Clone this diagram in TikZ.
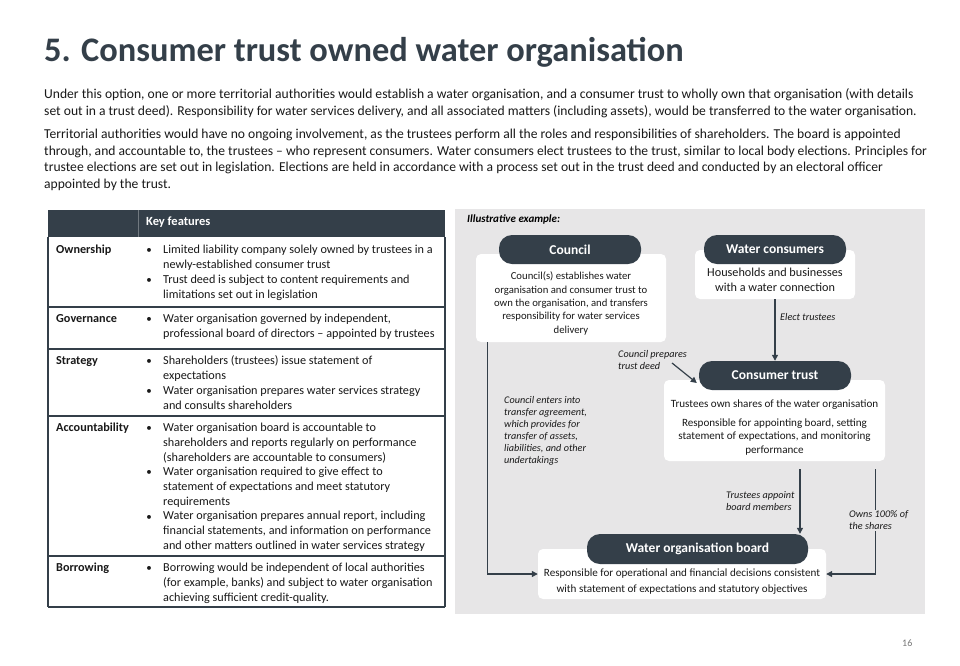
\documentclass[tikz,border=0pt]{standalone}
\usepackage{fontspec}
\setmainfont{Carlito}
\usetikzlibrary{arrows.meta, positioning, calc}
\definecolor{slate}{RGB}{52,63,73}
\definecolor{panelgrey}{RGB}{231,230,231}
\definecolor{bodyink}{RGB}{25,25,25}
\definecolor{pagegrey}{RGB}{120,120,120}
\tikzset{
  para/.style={anchor=base west, align=left, inner sep=0pt,
    font=\fontsize{13.6}{16.5}\selectfont, text=bodyink},
  rowlbl/.style={anchor=base west, inner sep=0pt,
    font=\fontsize{12.2}{15}\selectfont\bfseries, text=bodyink},
  itemtxt/.style={anchor=base west, align=left, inner sep=0pt,
    font=\fontsize{12.2}{15}\selectfont, text=bodyink},
  bulletmark/.style={anchor=base, inner sep=0pt,
    font=\fontsize{11}{15}\selectfont, text=bodyink},
  tablerule/.style={line width=1.3pt, draw=slate},
  pill/.style={rectangle, fill=slate, text=white, rounded corners=13pt,
    minimum height=29pt, inner sep=0pt,
    font=\fontsize{13.5}{16}\selectfont\bfseries},
  wbox/.style={rectangle, fill=white, rounded corners=5pt, inner sep=0pt},
  boxtxt/.style={align=center, inner sep=0pt,
    font=\fontsize{10.7}{13.3}\selectfont, text=bodyink},
  note/.style={anchor=base west, align=left, inner sep=0pt,
    font=\fontsize{10.2}{12}\selectfont\itshape, text=bodyink},
  arrow/.style={-{Triangle[length=6pt,width=6pt]}, line width=1.2pt, draw=slate}
}

\begin{document}
\begin{tikzpicture}[x=1pt, y=-1pt]
  \useasboundingbox[fill=white] (0,0) rectangle (960,665);

  % Heading and introduction
  \node[anchor=base west, inner sep=0pt, text=slate,
    font=\fontsize{34.4}{40}\selectfont\bfseries] (title) at (44,61)
    {5. Consumer trust owned water organisation};
  \node[para] (intro) at (44,115)
    {Under this option, one or more territorial authorities would establish a water organisation, and a consumer trust to wholly own that organisation (with details\\
     set out in a trust deed). Responsibility for water services delivery, and all associated matters (including assets), would be transferred to the water organisation.};
  \node[para] (detail) at (44,188)
    {Territorial authorities would have no ongoing involvement, as the trustees perform all the roles and responsibilities of shareholders. The board is appointed\\
     through, and accountable to, the trustees -- who represent consumers. Water consumers elect trustees to the trust, similar to local body elections. Principles for\\
     trustee elections are set out in legislation. Elections are held in accordance with a process set out in the trust deed and conducted by an electoral officer\\
     appointed by the trust.};

  % Key features table
  \fill[slate] (48,210) rectangle (445,237);
  \draw[slate!70!white, line width=0.6pt] (138,210) -- (138,237);
  \node[anchor=base west, inner sep=0pt, text=white,
    font=\fontsize{12.5}{15}\selectfont\bfseries] (keyhdr) at (146,225) {Key features};
  \draw[tablerule] (48,237) -- (48,607) (445,237) -- (445,607);
  \foreach \yy in {307,349,416,556,607}
    \draw[tablerule] (48,\yy) -- (445,\yy);

  \node[rowlbl] (ownlbl) at (56,253) {Ownership};
  \node[rowlbl] (govlbl) at (56,322) {Governance};
  \node[rowlbl] (strlbl) at (56,364) {Strategy};
  \node[rowlbl] (acclbl) at (56,431) {Accountability};
  \node[rowlbl] (borlbl) at (56,571) {Borrowing};

  \foreach \yy [count=\i] in {253,283,322,364,394,431,475,520,571}
    \node[bulletmark] (dot\i) at (149,\yy) {\textbullet};

  \node[itemtxt] (own1) at (163,268)
    {Limited liability company solely owned by trustees in a\\ newly-established consumer trust};
  \node[itemtxt] (own2) at (163,298)
    {Trust deed is subject to content requirements and\\ limitations set out in legislation};
  \node[itemtxt] (gov1) at (163,337)
    {Water organisation governed by independent,\\ professional board of directors -- appointed by trustees};
  \node[itemtxt] (str1) at (163,379)
    {Shareholders (trustees) issue statement of\\ expectations};
  \node[itemtxt] (str2) at (163,409)
    {Water organisation prepares water services strategy\\ and consults shareholders};
  \node[itemtxt] (acc1) at (163,461)
    {Water organisation board is accountable to\\ shareholders and reports regularly on performance\\ (shareholders are accountable to consumers)};
  \node[itemtxt] (acc2) at (163,505)
    {Water organisation required to give effect to\\ statement of expectations and meet statutory\\ requirements};
  \node[itemtxt] (acc3) at (163,549)
    {Water organisation prepares annual report, including\\ financial statements, and information on performance\\ and other matters outlined in water services strategy};
  \node[itemtxt] (bor1) at (163,601)
    {Borrowing would be independent of local authorities\\ (for example, banks) and subject to water organisation\\ achieving sufficient credit-quality.};

  % Illustrative example panel
  \fill[panelgrey] (455,209) rectangle (925,614);
  \node[anchor=base west, inner sep=0pt, text=black,
    font=\fontsize{11}{12}\selectfont\bfseries\itshape] (illus) at (467,222) {Illustrative example:};

  \node[wbox, minimum width=190pt, minimum height=88pt] (councilbox) at (571,298) {};
  \node[boxtxt] (counciltxt) at (571,303.5)
    {Council(s) establishes water\\ organisation and consumer trust to\\ own the organisation, and transfers\\ responsibility for water services\\ delivery};
  \node[pill, minimum width=142pt] (councilpill) at (570,249.5) {Council};

  \node[wbox, minimum width=160pt, minimum height=49pt] (consbox) at (775,274.5) {};
  \node[boxtxt, font=\fontsize{12.2}{15}\selectfont] (constxt) at (775,280)
    {Households and businesses\\ with a water connection};
  \node[pill, minimum width=142pt] (conspill) at (775,249.5) {Water consumers};

  \node[wbox, minimum width=221pt, minimum height=81pt] (trustbox) at (774.5,420.5) {};
  \node[boxtxt, font=\fontsize{11.1}{13.5}\selectfont] (trusttxt) at (774.5,427.5)
    {Trustees own shares of the water organisation\\[5pt]
     Responsible for appointing board, setting\\ statement of expectations, and monitoring\\ performance};
  \node[pill, minimum width=152pt] (trustpill) at (775,375.5) {Consumer trust};

  \node[wbox, minimum width=288pt, minimum height=50pt] (boardbox) at (682,574) {};
  \node[boxtxt, font=\fontsize{11.1}{16}\selectfont] (boardtxt) at (682,581.5)
    {Responsible for operational and financial decisions consistent\\ with statement of expectations and statutory objectives};
  \node[pill, minimum width=221pt, minimum height=30pt] (boardpill) at (697.5,549) {Water organisation board};

  % Connectors
  \coordinate (deedtail) at (672,363);
  \draw[arrow] (consbox.south) -- (trustpill.north);
  \draw[arrow] (deedtail) -- ([xshift=-2pt,yshift=-7.5pt]trustpill.west);
  \draw[arrow] ([xshift=12pt]councilbox.south west) |- (boardbox.west);
  \draw[arrow] ([xshift=25.5pt,yshift=-8pt]trustbox.south) -- ([xshift=25.5pt]trustbox.south |- boardpill.north);
  \draw[arrow] ([xshift=-10pt,yshift=-8pt]trustbox.south east) |- (boardbox.east);

  % Connector labels
  \node[note] (electlbl) at (780,320.5) {Elect trustees};
  \node[note] (deedlbl) at (618,369.5) {Council prepares\\ trust deed};
  \node[note] (transferlbl) at (504,463.5)
    {Council enters into\\ transfer agreement,\\ which provides for\\ transfer of assets,\\ liabilities, and other\\ undertakings};
  \node[note] (appointlbl) at (726,510.5) {Trustees appoint\\ board members};
  \node[note, fill=panelgrey, inner ysep=1pt] (shareslbl) at (849,529.5) {Owns 100\% of\\ the shares};

  % Page number
  \node[anchor=base west, inner sep=0pt, text=pagegrey,
    font=\fontsize{10}{12}\selectfont] (pagenum) at (902,646) {16};
\end{tikzpicture}
\end{document}
